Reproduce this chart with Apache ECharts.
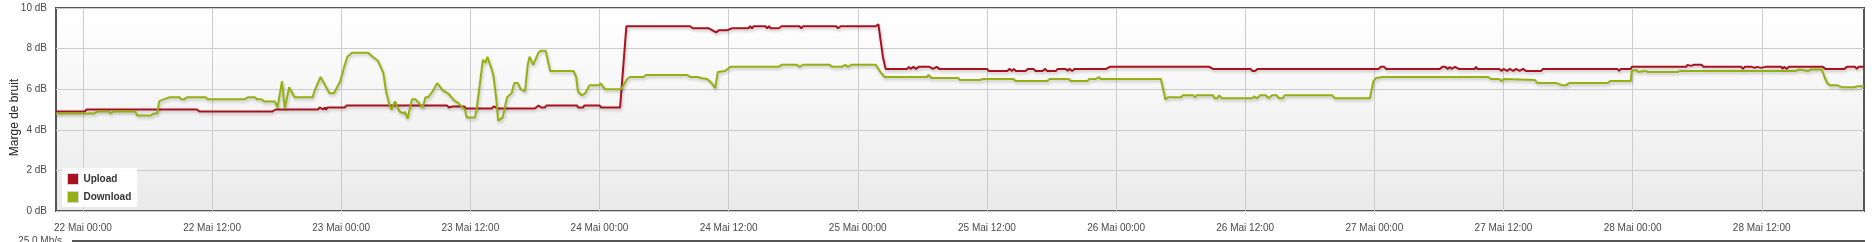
<!DOCTYPE html>
<html><head><meta charset="utf-8">
<script src="https://cdn.jsdelivr.net/npm/echarts@6/dist/echarts.min.js"></script>
<style>html,body{margin:0;padding:0;background:#fff}#c{width:1875px;height:242px}</style>
</head><body><div id="c"></div>
<script>
// time stamps are "day-of-May HH:MM"
const rangeStart = '21 21:30';
const rangeEnd = '28 21:30';
const xTicks = ['22 00:00','22 12:00','23 00:00','23 12:00','24 00:00','24 12:00','25 00:00',
  '25 12:00','26 00:00','26 12:00','27 00:00','27 12:00','28 00:00','28 12:00'];
const yTicks = [0, 2, 4, 6, 8, 10];
const seriesNames = ['Upload', 'Download'];

const upload = [
 ['21 21:30',4.9],['22 00:10',4.9],['22 00:20',5.0],['22 10:35',5.0],['22 10:50',4.9],['22 17:35',4.9],
 ['22 17:55',5.0],['22 21:50',5.0],['22 22:00',5.1],['22 22:20',5.0],['22 22:30',5.1],['22 22:35',5.0],
 ['22 22:45',5.1],['23 00:20',5.1],['23 00:30',5.2],['23 09:50',5.2],['23 10:00',5.1],['23 10:20',5.15],
 ['23 11:25',5.15],['23 11:35',5.05],['23 14:00',5.05],['23 14:10',5.15],['23 14:35',5.05],['23 18:00',5.05],
 ['23 18:20',5.2],['23 18:35',5.1],['23 18:55',5.1],['23 19:05',5.2],['23 21:55',5.2],['23 22:00',5.1],
 ['23 22:30',5.1],['23 22:35',5.2],['24 00:00',5.2],['24 00:10',5.1],['24 01:55',5.1],['24 02:30',9.1],
 ['24 08:25',9.1],['24 08:40',9.0],['24 10:10',9.0],['24 10:50',8.8],['24 11:05',8.9],['24 11:50',8.9],
 ['24 12:20',9.0],['24 13:50',9.0],['24 14:00',9.1],['24 14:10',9.0],['24 14:20',9.1],['24 15:25',9.1],
 ['24 15:35',9.0],['24 15:45',9.1],['24 15:55',9.0],['24 16:40',9.0],['24 16:55',9.1],['24 18:35',9.1],
 ['24 18:45',9.0],['24 18:55',9.1],['24 22:00',9.1],['24 22:10',9.0],['24 22:25',9.1],['25 01:40',9.1],
 ['25 01:55',9.2],['25 02:20',7.6],['25 02:35',7.0],['25 04:35',7.0],['25 04:45',7.1],['25 04:55',7.0],
 ['25 05:10',7.1],['25 05:25',7.0],['25 05:40',7.1],['25 06:40',7.1],['25 07:00',7.0],['25 07:20',7.1],
 ['25 07:35',7.0],['25 12:00',7.0],['25 12:10',6.9],['25 13:55',6.9],['25 14:05',7.0],['25 14:20',6.9],
 ['25 14:30',7.0],['25 14:40',6.9],['25 15:35',6.9],['25 15:50',7.0],['25 16:20',7.0],['25 16:30',6.9],
 ['25 17:10',6.9],['25 17:25',7.0],['25 17:35',6.9],['25 18:25',6.9],['25 18:35',7.0],['25 19:20',7.0],
 ['25 19:30',6.9],['25 19:40',7.0],['25 19:55',6.9],['25 20:10',7.0],['25 23:05',7.0],['25 23:25',7.1],
 ['26 08:40',7.1],['26 09:00',7.0],['26 12:30',7.0],['26 12:40',6.9],['26 12:55',6.9],['26 13:10',7.0],
 ['27 00:25',7.0],['27 00:35',7.1],['27 00:55',7.1],['27 01:05',7.0],['27 06:05',7.0],['27 06:20',7.1],
 ['27 06:35',7.1],['27 06:50',7.0],['27 07:00',7.1],['27 07:10',7.0],['27 07:30',7.1],['27 07:50',7.0],
 ['27 09:20',7.0],['27 09:27',7.1],['27 09:35',7.0],['27 11:35',7.0],['27 11:50',6.9],['27 12:00',7.0],
 ['27 12:20',6.9],['27 12:35',7.0],['27 12:55',6.9],['27 13:10',7.0],['27 13:30',6.9],['27 13:50',7.0],
 ['27 14:05',6.9],['27 15:30',6.9],['27 15:40',7.0],['27 22:35',7.0],['27 22:45',6.9],['27 22:55',7.0],
 ['27 23:50',7.0],['27 23:55',7.1],['28 05:00',7.1],['28 05:05',7.2],['28 05:25',7.15],['28 05:40',7.2],
 ['28 06:25',7.2],['28 06:35',7.1],['28 10:05',7.1],['28 10:15',7.0],['28 10:25',7.1],['28 11:05',7.1],
 ['28 11:20',7.05],['28 11:35',7.1],['28 11:55',7.05],['28 12:20',7.1],['28 13:50',7.1],['28 13:55',7.0],
 ['28 14:05',7.1],['28 14:20',7.0],['28 14:30',7.1],['28 17:40',7.1],['28 17:55',7.0],['28 19:40',7.0],
 ['28 19:55',7.1],['28 20:40',7.1],['28 20:50',7.0],['28 21:00',7.1],['28 21:30',7.1]
];

const download = [
 ['21 21:30',4.8],['22 01:00',4.8],['22 01:20',4.9],['22 02:25',4.9],['22 02:35',4.8],['22 02:50',4.9],
 ['22 04:50',4.9],['22 05:05',4.7],['22 06:20',4.7],['22 06:35',4.8],['22 06:55',4.8],['22 07:05',5.4],
 ['22 07:30',5.5],['22 08:05',5.6],['22 09:00',5.6],['22 09:10',5.5],['22 09:25',5.5],['22 09:40',5.6],
 ['22 11:25',5.6],['22 11:35',5.5],['22 15:00',5.5],['22 15:20',5.6],['22 16:00',5.6],['22 16:10',5.5],
 ['22 16:35',5.5],['22 16:50',5.4],['22 17:50',5.4],['22 18:05',5.1],['22 18:30',6.4],['22 18:45',5.05],
 ['22 19:10',6.1],['22 19:40',5.6],['22 21:20',5.6],['22 21:35',6.0],['22 22:05',6.6],['22 22:30',6.2],
 ['22 22:55',5.8],['22 23:20',5.8],['22 23:55',6.4],['23 00:20',7.2],['23 00:35',7.6],['23 01:00',7.8],
 ['23 02:30',7.8],['23 02:55',7.6],['23 03:25',7.4],['23 03:40',7.1],['23 03:55',6.8],['23 04:10',5.9],
 ['23 04:30',5.2],['23 04:40',5.0],['23 05:00',5.4],['23 05:25',4.9],['23 05:50',4.8],['23 05:55',4.9],
 ['23 06:10',4.55],['23 06:35',5.5],['23 06:55',5.5],['23 07:35',5.1],['23 07:50',5.6],['23 08:05',5.6],
 ['23 08:30',5.9],['23 08:55',6.3],['23 09:25',5.95],['23 09:55',5.8],['23 10:30',5.45],['23 10:55',5.3],
 ['23 11:05',5.2],['23 11:30',5.0],['23 11:40',4.6],['23 12:25',4.6],['23 12:35',5.0],['23 13:10',7.45],
 ['23 13:25',7.3],['23 13:35',7.6],['23 14:00',6.95],['23 14:10',6.6],['23 14:25',5.5],['23 14:35',4.45],
 ['23 15:00',4.6],['23 15:25',5.6],['23 15:50',5.8],['23 16:05',6.3],['23 16:25',6.3],['23 16:40',6.0],
 ['23 17:05',5.9],['23 17:20',7.2],['23 17:30',7.6],['23 17:50',7.2],['23 18:20',7.8],['23 18:35',7.9],
 ['23 19:00',7.9],['23 19:25',6.9],['23 21:35',6.9],['23 21:50',6.6],['23 22:00',5.9],['23 22:20',5.7],
 ['23 22:40',5.8],['23 23:05',6.2],['24 00:00',6.2],['24 00:05',6.3],['24 00:30',6.0],['24 00:50',6.0],
 ['24 02:00',6.0],['24 02:35',6.5],['24 02:50',6.6],['24 04:05',6.6],['24 04:20',6.7],['24 08:10',6.7],
 ['24 08:25',6.6],['24 09:10',6.6],['24 09:25',6.55],['24 09:35',6.6],['24 10:00',6.5],['24 10:25',6.3],
 ['24 10:45',6.05],['24 11:00',6.85],['24 11:40',6.9],['24 12:10',7.1],['24 16:40',7.1],['24 16:55',7.2],
 ['24 18:20',7.2],['24 18:35',7.1],['24 18:55',7.2],['24 21:25',7.2],['24 21:35',7.1],['24 22:30',7.1],
 ['24 22:50',7.2],['24 23:05',7.1],['24 23:25',7.2],['25 01:40',7.2],['25 02:10',6.8],['25 02:30',6.6],
 ['25 06:25',6.6],['25 06:35',6.7],['25 06:50',6.55],['25 09:20',6.55],['25 09:30',6.45],['25 11:20',6.45],
 ['25 11:30',6.4],['25 11:40',6.5],['25 14:30',6.5],['25 14:40',6.4],['25 17:35',6.4],['25 17:50',6.5],
 ['25 19:35',6.5],['25 19:50',6.4],['25 21:20',6.4],['25 21:30',6.5],['25 22:05',6.5],['25 22:25',6.6],
 ['25 22:35',6.5],['26 04:10',6.5],['26 04:35',5.5],['26 04:50',5.6],['26 06:05',5.6],['26 06:10',5.7],
 ['26 07:10',5.7],['26 07:20',5.6],['26 07:30',5.7],['26 09:00',5.7],['26 09:10',5.55],['26 09:25',5.55],
 ['26 09:35',5.7],['26 09:50',5.55],['26 12:40',5.55],['26 12:50',5.65],['26 13:05',5.55],['26 13:25',5.7],
 ['26 13:55',5.7],['26 14:10',5.55],['26 14:30',5.7],['26 14:55',5.7],['26 15:10',5.55],['26 15:30',5.55],
 ['26 15:40',5.7],['26 20:05',5.7],['26 20:20',5.55],['26 23:35',5.55],['26 23:55',6.4],['27 00:10',6.55],
 ['27 00:50',6.6],['27 10:35',6.6],['27 10:50',6.5],['27 11:35',6.5],['27 11:50',6.4],['27 12:00',6.5],
 ['27 12:10',6.45],['27 14:55',6.45],['27 15:10',6.3],['27 16:55',6.3],['27 17:25',6.2],['27 17:50',6.2],
 ['27 18:05',6.3],['27 21:40',6.3],['27 21:55',6.4],['27 23:50',6.4],['27 23:55',6.9],['28 00:20',6.95],
 ['28 00:30',6.85],['28 01:10',6.9],['28 01:25',6.85],['28 02:30',6.85],['28 02:40',6.9],['28 02:55',6.85],
 ['28 04:10',6.85],['28 04:25',6.9],['28 14:25',6.9],['28 14:35',6.97],['28 15:10',6.9],['28 15:30',6.97],
 ['28 16:20',6.9],['28 16:35',6.97],['28 17:35',6.97],['28 17:50',6.6],['28 18:05',6.3],['28 18:20',6.2],
 ['28 19:00',6.2],['28 19:25',6.1],['28 20:40',6.1],['28 20:55',6.15],['28 21:30',6.15]
];

// bottom (cut-off) second chart axis
const lowerAxisMax = 25;

function toH(s) {
  const p = s.split(' '), hm = p[1].split(':');
  return (parseInt(p[0], 10) - 22) * 24 + parseInt(hm[0], 10) + parseInt(hm[1], 10) / 60;
}
function tickLabel(s) {
  const p = s.split(' ');
  return p[0] + ' Mai ' + p[1];
}
const xTickH = xTicks.map(toH);
const toData = arr => arr.map(d => [toH(d[0]), d[1]]);

const FONT = '"Liberation Sans", Arial, sans-serif';
const chart = echarts.init(document.getElementById('c'), null, {renderer: 'canvas'});
const shadow = {shadowColor: 'rgba(0,0,0,0.22)', shadowBlur: 3, shadowOffsetX: 1, shadowOffsetY: 2};

chart.setOption({
  animation: false,
  textStyle: {fontFamily: FONT},
  grid: [
    {left: 56, right: 11, top: 8, height: 203, show: true, borderColor: '#555', borderWidth: 2,
     containLabel: false, outerBoundsMode: 'none',
     backgroundColor: new echarts.graphic.LinearGradient(0, 0, 0, 1, [
       {offset: 0, color: '#ffffff'}, {offset: 1, color: '#eaeaea'}])},
    {left: 73, right: 11, top: 241, height: 200, show: true, borderColor: '#555', borderWidth: 2,
     containLabel: false, outerBoundsMode: 'none', backgroundColor: '#ffffff'}
  ],
  legend: {
    data: seriesNames, orient: 'vertical', left: 62, top: 168,
    padding: [5, 6, 4, 5], itemWidth: 11, itemHeight: 11, itemGap: 6, icon: 'rect',
    backgroundColor: 'rgba(255,255,255,0.92)',
    itemStyle: {borderColor: '#d4d4d4', borderWidth: 1},
    textStyle: {fontFamily: FONT, fontSize: 10, fontWeight: 'bold', color: '#333'}
  },
  xAxis: [
    {type: 'value', gridIndex: 0, min: toH(rangeStart), max: toH(rangeEnd),
     axisLine: {show: false}, axisTick: {show: false, customValues: xTickH},
     axisLabel: {customValues: xTickH, margin: 12, fontSize: 10, color: '#4a4a4a', fontFamily: FONT,
       formatter: v => { const i = xTickH.findIndex(t => Math.abs(t - v) < 1e-6); return i >= 0 ? tickLabel(xTicks[i]) : ''; }},
     splitLine: {show: true, lineStyle: {color: '#cccccc', width: 1}}},
    {type: 'value', gridIndex: 1, min: 0, max: 1, show: false}
  ],
  yAxis: [
    {type: 'value', gridIndex: 0, min: yTicks[0], max: yTicks[yTicks.length - 1], interval: yTicks[1] - yTicks[0],
     name: 'Marge de bruit', nameLocation: 'middle', nameGap: 35, nameRotate: 90, nameMoveOverlap: false,
     nameTextStyle: {fontSize: 12, color: '#222', fontFamily: FONT, padding: [0, 16, 0, 0]},
     axisLine: {show: false}, axisTick: {show: false},
     axisLabel: {formatter: '{value} dB', margin: 9, fontSize: 10, color: '#4a4a4a', fontFamily: FONT},
     splitLine: {show: true, lineStyle: {color: '#cccccc', width: 1}}},
    {type: 'value', gridIndex: 1, min: 0, max: lowerAxisMax, interval: lowerAxisMax,
     axisLine: {show: false}, axisTick: {show: false}, splitLine: {show: false},
     axisLabel: {formatter: v => v.toFixed(1) + ' Mb/s', margin: 11, fontSize: 10, color: '#4a4a4a', fontFamily: FONT}}
  ],
  series: [
    {name: 'Upload', type: 'line', xAxisIndex: 0, yAxisIndex: 0, data: toData(upload),
     showSymbol: false, symbol: 'none', color: '#a8121e',
     lineStyle: Object.assign({width: 2, color: '#a8121e'}, shadow)},
    {name: 'Download', type: 'line', xAxisIndex: 0, yAxisIndex: 0, data: toData(download),
     showSymbol: false, symbol: 'none', color: '#95b013',
     lineStyle: Object.assign({width: 2, color: '#95b013'}, shadow)}
  ]
});
</script>
</body></html>
